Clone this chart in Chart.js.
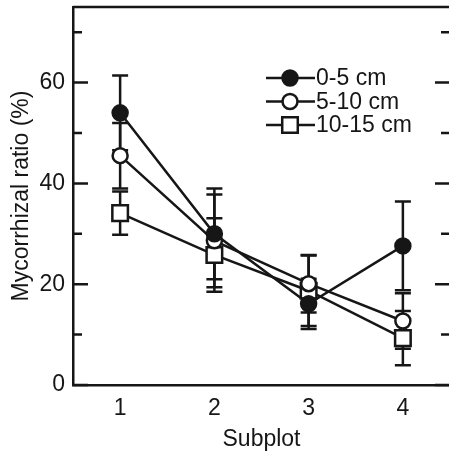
<!DOCTYPE html>
<html>
<head>
<meta charset="utf-8">
<script src="https://cdn.jsdelivr.net/npm/chart.js@4.4.1/dist/chart.umd.min.js"></script>
<style>
html, body { margin: 0; padding: 0; background: #fff; overflow: hidden; }
#wrap { width: 449px; height: 455px; overflow: hidden; }
</style>
</head>
<body>
<div id="wrap"><canvas id="chart" width="452" height="455"></canvas></div>
<script>
// Mycorrhizal ratio by subplot and soil depth
const subplots = [1, 2, 3, 4];
const depthLabels = ['0-5 cm', '5-10 cm', '10-15 cm'];
const ratio0to5 = [54.0, 30.0, 16.1, 27.6];
const err0to5 = [7.4, 9.0, 5.0, 8.8];
const ratio5to10 = [45.5, 28.6, 20.1, 12.7];
const err5to10 = [6.5, 9.2, 5.7, 5.5];
const ratio10to15 = [34.1, 25.8, 18.7, 9.3];
const err10to15 = [4.3, 7.3, 7.0, 5.4];
const yTicks = [0, 10, 20, 30, 40, 50, 60, 70];

const ink = '#161616';
const font = "'Liberation Sans', Arial, Helvetica, sans-serif";

function toPoints(values) {
    return values.map((v, i) => ({ x: subplots[i], y: v }));
}

// vertical error bars with caps, under the markers
const errorBars = {
    id: 'errorBars',
    beforeDatasetsDraw(chart) {
        const ctx = chart.ctx;
        const xs = chart.scales.x, ys = chart.scales.y;
        ctx.save();
        ctx.strokeStyle = ink;
        ctx.lineWidth = 2.5;
        chart.data.datasets.forEach(ds => {
            ds.data.forEach((p, i) => {
                const e = ds.errors[i];
                const px = xs.getPixelForValue(p.x);
                const top = ys.getPixelForValue(p.y + e);
                const bot = ys.getPixelForValue(p.y - e);
                ctx.beginPath();
                ctx.moveTo(px, top); ctx.lineTo(px, bot);
                ctx.moveTo(px - 8, top); ctx.lineTo(px + 8, top);
                ctx.moveTo(px - 8, bot); ctx.lineTo(px + 8, bot);
                ctx.stroke();
            });
        });
        ctx.restore();
    }
};

// top frame line and inward ticks on both sides
const frame = {
    id: 'frame',
    afterDraw(chart) {
        const ctx = chart.ctx;
        const a = chart.chartArea;
        const ys = chart.scales.y;
        ctx.save();
        ctx.strokeStyle = ink;
        ctx.lineWidth = 2.5;
        ctx.beginPath();
        ctx.moveTo(a.left, a.top); ctx.lineTo(a.right, a.top);
        yTicks.forEach(v => {
            const py = ys.getPixelForValue(v);
            const len = v % 20 === 0 ? 15 : 9;
            ctx.moveTo(a.left, py); ctx.lineTo(a.left + len, py);
            ctx.moveTo(a.right, py); ctx.lineTo(a.right - len, py);
        });
        ctx.stroke();
        ctx.restore();
    }
};

// legend with line + marker, inside the plot
const lineLegend = {
    id: 'lineLegend',
    afterDraw(chart) {
        const ctx = chart.ctx;
        const a = chart.chartArea;
        const x0 = a.left + 193, x1 = a.left + 242, xm = a.left + 217;
        ctx.save();
        ctx.font = '23px ' + font;
        ctx.textBaseline = 'middle';
        ctx.textAlign = 'left';
        chart.data.datasets.forEach((ds, i) => {
            const y = a.top + 71 + i * 23.5;
            ctx.strokeStyle = ink;
            ctx.lineWidth = 2.5;
            ctx.beginPath();
            ctx.moveTo(x0, y); ctx.lineTo(x1, y);
            ctx.stroke();
            ctx.fillStyle = ds.pointBackgroundColor;
            Chart.helpers.drawPoint(ctx, {
                pointStyle: ds.pointStyle,
                radius: ds.pointRadius,
                borderWidth: ds.pointBorderWidth,
                rotation: 0
            }, xm, y);
            ctx.fillStyle = ink;
            ctx.fillText(ds.label, x1 + 1, y + 1);
        });
        ctx.restore();
    }
};

function series(label, values, errors, style, fill, radius) {
    return {
        label: label,
        data: toPoints(values),
        errors: errors,
        borderColor: ink,
        borderWidth: 2.5,
        pointStyle: style,
        pointRadius: radius,
        pointHoverRadius: radius,
        pointBorderWidth: 2.5,
        pointBorderColor: ink,
        pointBackgroundColor: fill,
        fill: false,
        tension: 0
    };
}

new Chart(document.getElementById('chart'), {
    type: 'line',
    data: {
        datasets: [
            series(depthLabels[0], ratio0to5, err0to5, 'circle', ink, 7.5),
            series(depthLabels[1], ratio5to10, err5to10, 'circle', '#ffffff', 7.5),
            series(depthLabels[2], ratio10to15, err10to15, 'rect', '#ffffff', 11)
        ]
    },
    options: {
        responsive: false,
        animation: false,
        layout: { autoPadding: false, padding: { top: 7, right: 2, bottom: 0, left: 0 } },
        plugins: {
            legend: { display: false },
            tooltip: { enabled: false }
        },
        scales: {
            x: {
                type: 'linear',
                min: 0.5,
                max: 4.5,
                afterBuildTicks: s => { s.ticks = subplots.map(v => ({ value: v })); },
                afterFit: s => { s.height = 70; s.paddingLeft = 0; s.paddingRight = 0; },
                grid: { display: false, drawTicks: false },
                border: { display: true, color: ink, width: 2.5 },
                ticks: {
                    color: ink,
                    padding: 10,
                    font: { family: font, size: 23 }
                },
                title: {
                    display: true,
                    text: 'Subplot',
                    color: ink,
                    padding: { top: 2, bottom: 2 },
                    font: { family: font, size: 23 }
                }
            },
            y: {
                min: 0,
                max: 75,
                afterBuildTicks: s => { s.ticks = yTicks.map(v => ({ value: v })); },
                afterFit: s => { s.width = 73; s.paddingTop = 0; s.paddingBottom = 0; },
                grid: { display: false, drawTicks: false },
                border: { display: true, color: ink, width: 2.5 },
                ticks: {
                    color: ink,
                    padding: 8,
                    font: { family: font, size: 23 },
                    callback: v => (v % 20 === 0 ? String(v) : null)
                },
                title: {
                    display: true,
                    text: 'Mycorrhizal ratio (%)',
                    color: ink,
                    padding: { top: 8, bottom: 8 },
                    font: { family: font, size: 23 }
                }
            }
        }
    },
    plugins: [errorBars, frame, lineLegend]
});
</script>
</body>
</html>
